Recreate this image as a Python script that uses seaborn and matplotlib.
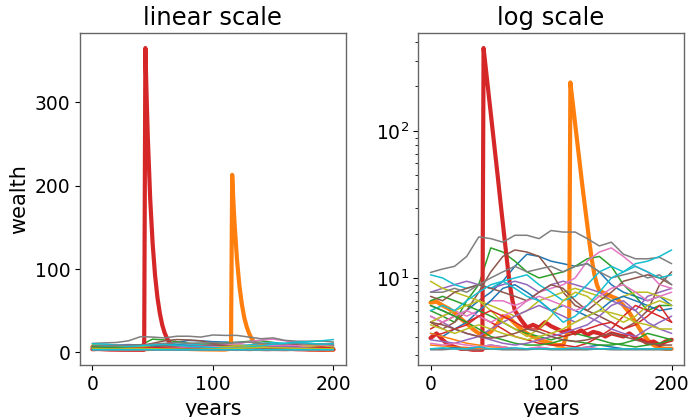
import matplotlib
matplotlib.use("Agg")
import matplotlib.pyplot as plt
import seaborn as sns

# años en los que se leyó cada trayectoria delgada
years = list(range(0, 201, 10))

# trayectorias delgadas (una por agente, color según el ciclo tab10)
w00 = [6.5, 6, 5.5, 6, 7, 8, 9.5, 12, 14.5, 14, 13, 12.5, 12, 12.5, 11, 9, 8, 7.5, 7, 7.5, 6.5]
w02 = [6, 5.5, 5, 7, 9, 16, 15, 13, 11, 10, 10.5, 11, 12, 13.5, 14, 12, 9, 7.5, 6, 6.5, 6.5]
w04 = [8, 8.5, 9, 9.5, 9, 8.5, 9, 9.5, 9, 8, 9, 9.5, 9, 8.5, 8, 7, 6.5, 6, 7.5, 8, 8.5]
w05 = [5, 4.5, 5, 6, 8, 11, 14, 15.5, 15, 14, 11, 8, 6.5, 6, 5.5, 5, 4.5, 5, 6, 9, 11]
w06 = [5, 5.5, 6, 5.5, 6, 7, 7, 6.5, 7, 8, 8.5, 9, 10, 13, 15, 16, 14, 12, 11, 9, 8.5]
w07 = [10.9, 11.5, 12, 14, 19, 18.5, 17.5, 19.5, 19.5, 18.5, 21, 20.5, 20.5, 18.5, 16.5, 17.5, 14.5, 13.5, 13.5, 13.8, 12.5]
w08 = [9.5, 8.5, 8, 7.5, 7, 6.5, 6, 5.5, 6, 7, 7.5, 8, 8.5, 8, 7.5, 7, 7.5, 8, 8, 7.5, 7]
w09 = [10.5, 10, 9, 8.5, 9, 8.5, 9.5, 10, 10.5, 9, 8, 7, 7.5, 9, 11, 12, 11, 12.5, 13, 14, 15.5]
w10 = [4.2, 4, 4.5, 5, 6, 7, 8.5, 9, 8, 7, 6, 6.5, 6, 5.5, 6, 7, 7.5, 7, 6.5, 6, 6.2]
w11 = [3.5, 3.45, 3.4, 3.35, 3.3, 3.3, 3.35, 3.3, 3.3, 3.3, 3.3, 3.35, 3.3, 3.3, 3.3, 3.3, 3.3, 3.3, 3.3, 3.3, 3.3]
w12 = [7, 7.5, 7, 6.5, 6, 5.5, 5, 4.5, 4.2, 4, 3.8, 4, 4.2, 4, 3.8, 3.6, 3.5, 3.4, 3.5, 3.6, 3.8]
w13 = [4.5, 5, 5.5, 5, 5.5, 5, 4.5, 4, 3.8, 3.6, 3.5, 3.5, 3.4, 3.6, 4, 4.5, 5.5, 6.5, 6, 5.5, 5]
w14 = [5.5, 5, 4.5, 4.2, 4, 4.5, 5, 5.5, 6, 6.5, 6, 5.5, 5, 5.5, 5, 4.5, 4.2, 4, 4.5, 5, 5.5]
w15 = [7.5, 7, 8, 8.5, 9, 8.5, 8, 7.5, 7, 8, 9, 8.5, 7, 6, 7, 8, 9.5, 10, 10.5, 10, 9]
w16 = [5.5, 5, 5.5, 6, 5.5, 5, 5.5, 6, 7, 7.5, 7, 6.5, 6, 6.5, 7.5, 8.5, 9, 8, 7, 7.5, 8]
w17 = [8, 8, 8.5, 8, 9, 10, 11, 12, 11, 11.5, 12, 11, 12, 12.5, 11, 10, 10.5, 11, 10, 10.5, 9]
w18 = [5, 5.5, 6, 6.5, 7, 6, 5, 4.5, 4, 4.5, 5.5, 7, 8, 7.5, 6.5, 5.5, 5, 5.5, 6.5, 7, 6.5]
w19 = [6, 6.5, 6, 7, 8, 9, 9.5, 8.5, 7.5, 7, 6, 5, 5.5, 6.5, 8, 10, 11, 12, 11, 10, 10.5]
w20 = [3.3, 3.3, 3.35, 3.3, 3.4, 3.5, 3.4, 3.3, 3.3, 3.35, 3.3, 3.3, 3.3, 3.4, 3.5, 3.4, 3.3, 3.3, 3.3, 3.3, 3.3]
w21 = [4.2, 4.0, 3.8, 3.6, 3.5, 3.4, 3.4, 3.3, 3.3, 3.3, 3.3, 3.3, 3.3, 3.3, 3.3, 3.3, 3.3, 3.3, 3.3, 3.3, 3.3]
w22 = [6.5, 6, 5.5, 5, 4.5, 4, 3.8, 3.6, 3.5, 3.5, 3.6, 3.8, 3.7, 3.6, 3.5, 3.5, 3.6, 3.8, 4.2, 4, 3.8]
w23 = [4, 4.2, 4.5, 4.8, 5.5, 6, 5.5, 5, 4.5, 4.5, 4.2, 4, 4.2, 4.5, 4.8, 5, 4.5, 4.8, 5.5, 6.5, 5]
w24 = [3.8, 3.7, 3.6, 3.8, 4, 3.8, 3.6, 3.5, 3.6, 3.8, 4, 4.2, 4.5, 4.8, 5.5, 6.5, 7, 6, 5, 4.5, 4.2]
w25 = [5, 4.8, 4.5, 4.2, 4, 3.9, 4, 4.2, 4.5, 4.3, 4, 3.8, 3.7, 3.8, 4, 4.2, 4, 3.8, 3.6, 3.5, 3.5]
w26 = [3.6, 3.5, 3.6, 3.5, 3.4, 3.5, 3.4, 3.3, 3.3, 3.4, 3.3, 3.3, 3.3, 3.4, 3.3, 3.3, 3.3, 3.3, 3.3, 3.3, 3.3]
w27 = [3.25, 3.25, 3.3, 3.25, 3.25, 3.3, 3.25, 3.25, 3.25, 3.3, 3.25, 3.25, 3.25, 3.25, 3.3, 3.25, 3.25, 3.25, 3.25, 3.25, 3.25]
w28 = [4.8, 4.5, 4.2, 4.5, 4.8, 4.5, 4.2, 4, 3.8, 4, 4.2, 4.5, 5, 5.5, 6, 5.8, 5.5, 5, 4.8, 4.5, 4.5]
w29 = [3.3, 3.35, 3.3, 3.3, 3.4, 3.3, 3.3, 3.35, 3.3, 3.3, 3.3, 3.3, 3.35, 3.3, 3.3, 3.3, 3.3, 3.3, 3.3, 3.3, 3.3]

# los dos agentes que se hacen "ricos" (líneas gruesas)
orange_years = [0, 5, 10, 15, 20, 25, 30, 35, 40, 45, 50, 55, 60, 65, 70, 75, 80, 85, 90, 95,
                100, 105, 110, 115, 116, 117, 118, 120, 122, 124, 126, 128, 130, 132, 134, 136,
                138, 140, 145, 150, 155, 160, 165, 170, 175, 180, 185, 190, 195, 200]
orange_wealth = [6.8, 6.9, 6.5, 6.2, 5.8, 5.3, 4.9, 4.5, 4.2, 4.1, 4.3, 4.8, 5.5, 5.4, 4.9, 4.5,
                 4.2, 4.0, 3.8, 3.7, 3.6, 3.5, 3.5, 4.5, 213, 181, 154, 111, 80, 58, 42, 31, 23,
                 17, 13, 10.5, 9, 8.2, 7.8, 7.5, 7.2, 6.5, 5.8, 5.0, 4.3, 3.8, 3.5, 3.35, 3.3, 3.3]

red_years = [0, 5, 10, 15, 20, 25, 30, 35, 40, 43, 44, 45, 46, 48, 50, 52, 54, 56, 58, 60, 62,
             64, 66, 68, 70, 75, 80, 85, 90, 95, 100, 105, 110, 115, 120, 125, 130, 135, 140,
             145, 150, 155, 160, 165, 170, 175, 180, 185, 190, 195, 200]
red_wealth = [3.9, 4.2, 3.8, 3.5, 3.4, 3.3, 3.3, 3.25, 3.25, 3.25, 365, 308, 259, 184, 131, 93,
              66, 47, 33, 23.5, 16.7, 11.9, 8.8, 7, 6, 5.2, 4.6, 4.8, 4.6, 5.0, 4.7, 4.5, 4.3,
              4.4, 4.2, 4.4, 4.1, 4.3, 4.2, 4.0, 4.2, 4.1, 4.0, 4.2, 3.9, 3.8, 3.6, 3.7, 3.5,
              3.7, 3.8]

thin = {0: w00, 2: w02, 4: w04, 5: w05, 6: w06, 7: w07, 8: w08, 9: w09, 10: w10, 11: w11,
        12: w12, 13: w13, 14: w14, 15: w15, 16: w16, 17: w17, 18: w18, 19: w19, 20: w20,
        21: w21, 22: w22, 23: w23, 24: w24, 25: w25, 26: w26, 27: w27, 28: w28, 29: w29}
thick = {1: (orange_years, orange_wealth), 3: (red_years, red_wealth)}

sns.set_style("ticks", {"axes.edgecolor": "0.4"})
plt.rcParams.update({
    "font.size": 13.5,
    "text.color": "black", "axes.labelcolor": "black",
    "xtick.color": "black", "ytick.color": "black",
    "xtick.major.size": 3.5, "ytick.major.size": 3.5,
    "xtick.minor.size": 2, "ytick.minor.size": 2,
})
palette = sns.color_palette("tab10")

fig, axes = plt.subplots(1, 2, figsize=(6.92, 4.17), dpi=100)
fig.subplots_adjust(left=0.116, right=0.988, bottom=0.125, top=0.921, wspace=0.275)

for ax, title in zip(axes, ["linear scale", "log scale"]):
    for i in range(30):
        color = palette[i % 10]
        if i in thick:
            xs, ys = thick[i]
            sns.lineplot(x=xs, y=ys, ax=ax, color=color, lw=3)
        else:
            sns.lineplot(x=years, y=thin[i], ax=ax, color=color, lw=1.1)
    ax.set_title(title, fontsize=17.5)
    ax.set_xlabel("years", fontsize=15)
    ax.set_xticks([0, 100, 200])

axes[0].set_ylabel("wealth", fontsize=15)
axes[0].set_yticks([0, 100, 200, 300])
axes[1].set_yscale("log")

for ax in axes:
    for s in ax.spines.values():
        s.set_visible(True)
        s.set_linewidth(1.0)

plt.savefig("out.png", dpi=100)
plt.close()
